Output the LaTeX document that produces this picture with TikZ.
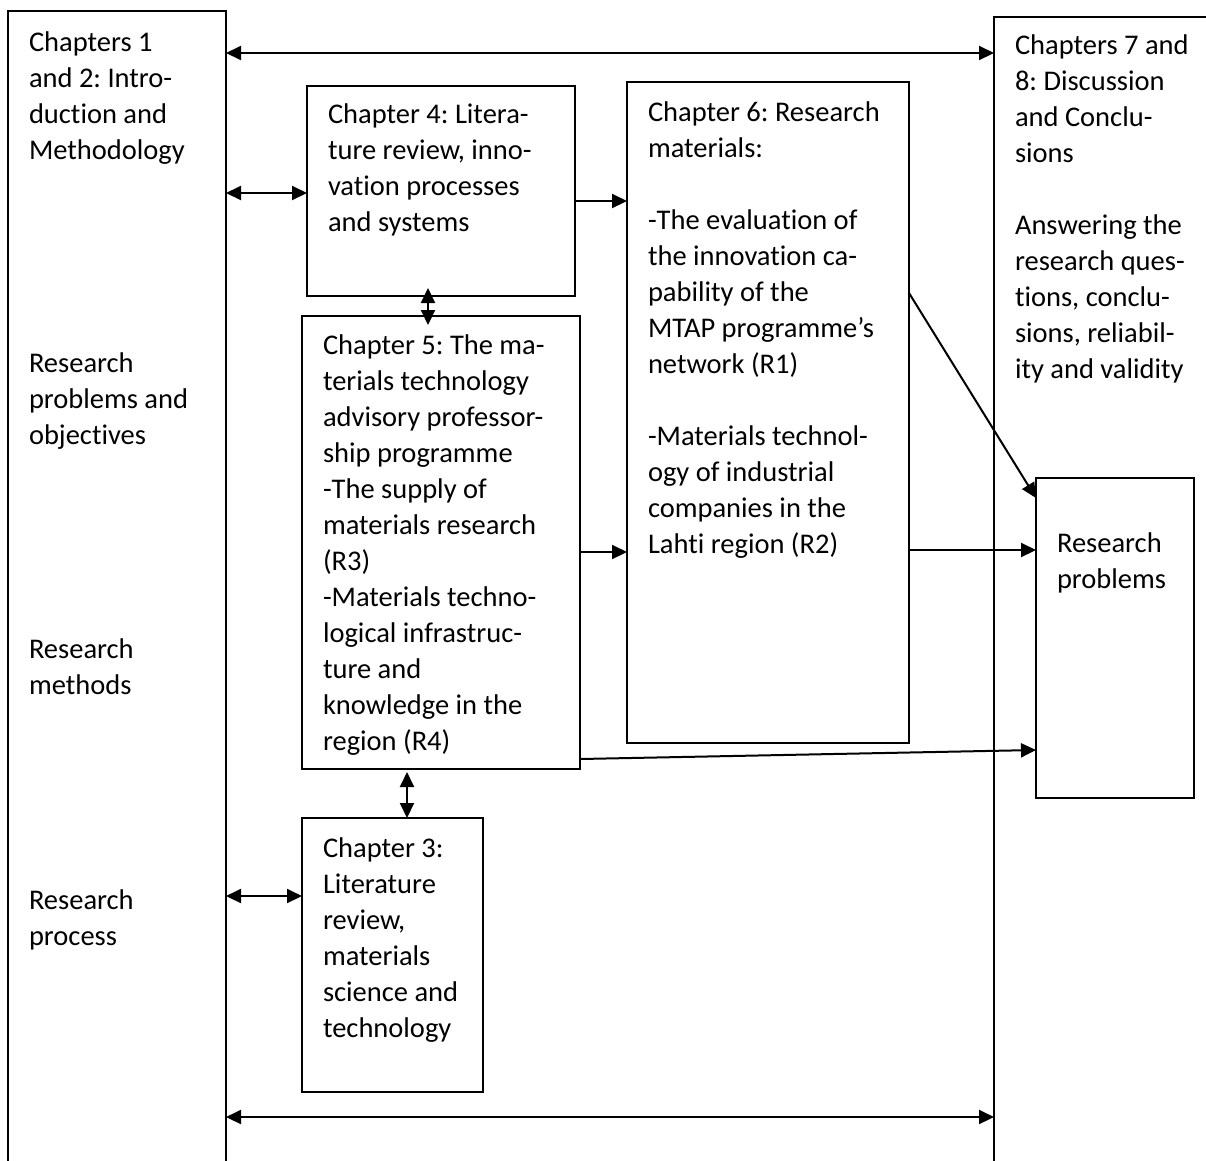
\documentclass[tikz,border=0pt]{standalone}
\usepackage{fontspec}
\setmainfont[Ligatures={NoCommon,NoRare,NoContextual},RawFeature={-liga;-dlig;-clig;-calt}]{Carlito}
\usetikzlibrary{arrows.meta}
\frenchspacing
% keep "t" and "i" apart (no ti ligature)
\newcommand\tI{t\kern0pt i}

\begin{document}
\begin{tikzpicture}[x=1pt,y=-1pt,
  box/.style={draw, line width=2pt, rectangle, inner sep=0pt, outer sep=0pt, anchor=north west},
  txt/.style={anchor=north west, inner sep=0pt, outer sep=0pt, align=left,
              font=\fontsize{28.5}{36}\selectfont},
  conn/.style={line width=2pt},
  tip/.style={-{Triangle[length=15pt,width=14pt]}},
  dtip/.style={{Triangle[length=15pt,width=14pt]}-{Triangle[length=15pt,width=14pt]}}
]
\useasboundingbox (0,0) rectangle (1206,1160);
\clip (0,0) rectangle (1206,1160);

% frames
\node[box, minimum width=218pt, minimum height=1250pt] (lft) at (8,11) {};
\node[box, minimum width=320pt, minimum height=1250pt] (rgt) at (994,17) {};
\node[box, minimum width=268pt, minimum height=210pt] (ch4) at (307,86) {};
\node[box, minimum width=282pt, minimum height=661pt] (ch6) at (627,82) {};
\node[box, minimum width=278pt, minimum height=453pt] (ch5) at (302,316) {};
\node[box, minimum width=181pt, minimum height=274pt] (ch3) at (302,818) {};
\node[box, minimum width=158pt, minimum height=320pt] (rp) at (1036,478) {};

% texts (north = first baseline - strut height)
\node[txt] (t12) at (29,25.8) {\strut Chapters 1\\and 2: Intro-\\duction and\\Methodology};
\node[txt] (tobj) at (29,346.8) {\strut Research\\problems and\\objec\tI ves};
\node[txt] (tmeth) at (29,632.8) {\strut Research\\methods};
\node[txt] (tproc) at (29,883.8) {\strut Research\\process};

\node[txt] (t78) at (1015,28.8) {\strut Chapters 7 and\\8: Discussion\\and Conclu-\\sions\\[36pt]Answering the\\research ques-\\\tI ons, conclu-\\sions, reliabil-\\ity and validity};

\node[txt] (t4) at (328,97.8) {\strut Chapter 4: Litera-\\ture review, inno-\\va\tI on processes\\and systems};

\node[txt] (t6) at (648,95.8) {\strut Chapter 6: Research\\materials:\\[36pt]-The evalua\tI on of\\the innova\tI on ca-\\pability of the\\MTAP programme’s\\network (R1)\\[36pt]-Materials technol-\\ogy of industrial\\companies in the\\Lah\tI{} region (R2)};

\node[txt] (t5) at (323,328.8) {\strut Chapter 5: The ma-\\terials technology\\advisory professor-\\ship programme\\-The supply of\\materials research\\(R3)\\-Materials techno-\\logical infrastruc-\\ture and\\knowledge in the\\region (R4)};

\node[txt] (t3) at (323,831.8) {\strut Chapter 3:\\Literature\\review,\\materials\\science and\\technology};

\node[txt] (trp) at (1057,526.8) {\strut Research\\problems};

% connectors
\draw[conn,dtip] (lft.east |- 0,53) -- (rgt.west |- 0,53);
\draw[conn,dtip] (lft.east |- 0,1117) -- (rgt.west |- 0,1117);
\draw[conn,dtip] (lft.east |- 0,193) -- (ch4.west |- 0,193);
\draw[conn,dtip] (lft.east |- 0,896) -- (ch3.west |- 0,896);
\draw[conn,tip] (ch4.east |- 0,201) -- (ch6.west |- 0,201);
\draw[conn,dtip] ([xshift=-13pt,yshift=8pt]ch4.south) -- ([xshift=-13pt,yshift=-9pt]ch5.north);
\draw[conn,dtip] ([xshift=-34pt,yshift=-3pt]ch5.south) -- ([xshift=14.5pt]ch3.north);
\draw[conn,tip] (ch5.east |- 0,552) -- (ch6.west |- 0,552);
\draw[conn,tip] (ch6.east |- 0,550) -- (rp.west |- 0,550);
\draw[conn,tip] (ch6.east |- 0,293) -- (rp.west |- 0,498);
\draw[conn,tip] (ch5.east |- 0,759) -- (rp.west |- 0,750);
\end{tikzpicture}
\end{document}
